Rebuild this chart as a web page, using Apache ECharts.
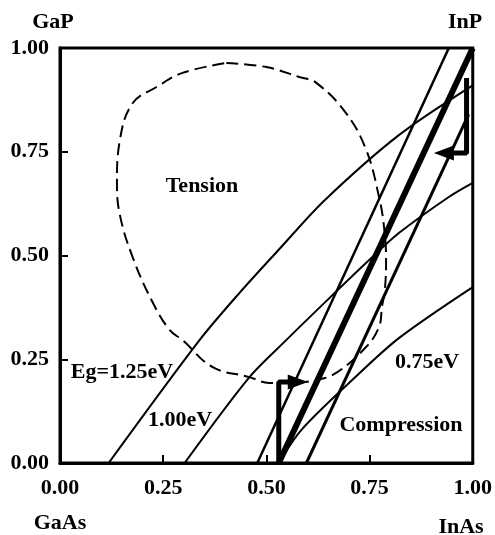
<!DOCTYPE html>
<html><head><meta charset="utf-8">
<script src="https://cdn.jsdelivr.net/npm/echarts@6/dist/echarts.min.js"></script>
<style>html,body{margin:0;padding:0;background:#fff}#c{width:495px;height:535px}</style>
</head><body><div id="c"></div>
<script>
// ---- data (composition fractions) ----
const tickValues = [0, 0.25, 0.5, 0.75, 1.0];
const miscibilityGap = [
  [0.403,0.964],[0.5,0.954],[0.58,0.93],[0.621,0.916],[0.693,0.843],[0.742,0.754],
  [0.773,0.641],[0.785,0.569],[0.79,0.489],[0.787,0.417],[0.78,0.376],[0.773,0.328],
  [0.742,0.28],[0.669,0.217],[0.621,0.2],[0.556,0.193],[0.507,0.193],[0.459,0.207],
  [0.37,0.231],[0.297,0.296],[0.266,0.32],[0.225,0.386],[0.176,0.496],[0.145,0.598],
  [0.138,0.675],[0.145,0.778],[0.176,0.867],[0.234,0.906],[0.297,0.94],[0.403,0.964]
];
const eg125 = [[0.118,0],[0.338,0.296],[0.435,0.41],[0.531,0.515],[0.64,0.632],[0.821,0.79],[1.0,0.91]];
const eg100 = [[0.302,0],[0.459,0.207],[0.548,0.296],[0.645,0.39],[0.749,0.489],[0.821,0.554],[0.942,0.641],[1.0,0.675]];
const eg075 = [[0.53,0],[0.585,0.08],[0.708,0.2],[0.821,0.301],[1.0,0.424]];
const latticeMatched = [[0.53,0],[1.0,1.0]];
const tensileLimit = [[0.478,0],[0.942,1.0]];
const compressiveLimit = [[0.597,0],[0.99,0.84]];
const bracketLow = [[0.53,0],[0.53,0.195],[0.56,0.195]];
const arrowLow = [[0.576,0.195]];
const bracketHigh = [[0.985,0.928],[0.985,0.747],[0.95,0.747]];
const arrowHigh = [[0.93,0.747]];

const FONT = '"Liberation Serif", "Times New Roman", serif';
const chart = echarts.init(document.getElementById('c'));

function curve(data, width, extra) {
  return Object.assign({
    type: 'line', data: data, symbol: 'none', smooth: 0.3, silent: true,
    lineStyle: { color: '#000', width: width }
  }, extra || {});
}
function txt(text, x, y) {
  return { type: 'text', x: x, y: y, style: { text: text, fill: '#000', fontFamily: FONT,
    fontWeight: 'bold', fontSize: 22, align: 'center', verticalAlign: 'middle' } };
}

const axisCommon = {
  type: 'value', min: 0, max: 1, interval: 0.25,
  axisLine: { show: true, lineStyle: { color: '#000', width: 3 } },
  axisTick: { show: true, inside: true, length: 8, lineStyle: { color: '#000', width: 2 } },
  splitLine: { show: false },
  axisLabel: { color: '#000', fontFamily: FONT, fontWeight: 'bold', fontSize: 22,
    formatter: v => v.toFixed(2) }
};

chart.setOption({
  animation: false,
  backgroundColor: '#fff',
  grid: { left: 60, right: 21, top: 48, bottom: 72, show: true, borderColor: '#000', borderWidth: 3 },
  xAxis: Object.assign({}, axisCommon, { axisLabel: Object.assign({}, axisCommon.axisLabel, { margin: 14 }) }),
  yAxis: Object.assign({}, axisCommon, { axisLabel: Object.assign({}, axisCommon.axisLabel, { margin: 11 }) }),
  series: [
    curve(miscibilityGap, 2, { smooth: 0.4, lineStyle: { color: '#000', width: 2, type: [12, 6] } }),
    curve(eg125, 2),
    curve(eg100, 2),
    curve(eg075, 2),
    curve(tensileLimit, 2.5, { smooth: false }),
    curve(compressiveLimit, 3, { smooth: false }),
    curve(latticeMatched, 6, { smooth: false }),
    curve(bracketLow, 5, { smooth: false, clip: false }),
    curve(bracketHigh, 5, { smooth: false, clip: false }),
    { type: 'scatter', data: arrowLow, symbol: 'triangle', symbolSize: [15, 20], symbolRotate: -90,
      itemStyle: { color: '#000', opacity: 1 }, silent: true },
    { type: 'scatter', data: arrowHigh, symbol: 'triangle', symbolSize: [15, 20], symbolRotate: 90,
      itemStyle: { color: '#000', opacity: 1 }, silent: true }
  ],
  graphic: [
    txt('GaP', 53, 22), txt('InP', 465, 22), txt('GaAs', 60, 523), txt('InAs', 461, 527),
    txt('Tension', 202, 186), txt('Eg=1.25eV', 122, 372), txt('1.00eV', 180, 420),
    txt('0.75eV', 427, 362), txt('Compression', 401, 425)
  ]
});
</script></body></html>
